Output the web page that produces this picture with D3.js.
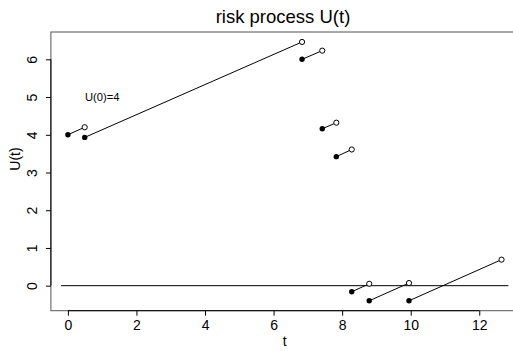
<!DOCTYPE html>
<html lang="en">
<head>
  <meta charset="UTF-8">
  <title>risk process U(t)</title>
  <script src="https://d3js.org/d3.v7.min.js"></script>
  <style>
    body {
      margin: 0;
      background: white;
      font-family: "Liberation Sans", Arial, sans-serif;
    }
    svg {
      display: block;
    }
  </style>
</head>
<body>
  <div id="chart"></div>

  <script>
    // segments of the risk process: start (filled dot) -> end (open dot)
    const startTimes  = [0, 0.49, 6.83, 7.42, 7.83, 8.28, 8.79, 9.95];
    const startLevels = [4.0, 3.93, 6.0, 4.16, 3.42, -0.16, -0.40, -0.40];
    const endTimes    = [0.49, 6.83, 7.42, 7.83, 8.28, 8.79, 9.95, 12.65];
    const endLevels   = [4.20, 6.46, 6.23, 4.32, 3.61, 0.05, 0.07, 0.69];

    const xTicks = [0, 2, 4, 6, 8, 10, 12];
    const yTicks = [0, 1, 2, 3, 4, 5, 6];
    const zeroLine = [-0.2, 12.85];

    const W = 513, H = 351;
    const plot = {left: 50.9, right: 520.4, top: 32, bottom: 310.7};

    const svg = d3.select("#chart")
                  .append("svg")
                  .attr("width", W)
                  .attr("height", H);

    const x = d3.scaleLinear()
                .domain([-0.496, 13.2])
                .range([plot.left, plot.right]);

    const y = d3.scaleLinear()
                .domain([-0.663, 6.724])
                .range([plot.bottom, plot.top]);

    const segs = startTimes.map((t, i) => ({
      t0: t, u0: startLevels[i], t1: endTimes[i], u1: endLevels[i]
    }));

    // box
    svg.append("rect")
       .attr("x", plot.left)
       .attr("y", plot.top)
       .attr("width", plot.right - plot.left)
       .attr("height", plot.bottom - plot.top)
       .attr("fill", "none")
       .attr("stroke", "#555")
       .attr("stroke-width", 1);

    // x axis
    const xAxis = svg.append("g")
       .attr("transform", `translate(0,${plot.bottom})`)
       .call(d3.axisBottom(x).tickValues(xTicks).tickSize(5).tickPadding(4).tickSizeOuter(0));
    xAxis.select(".domain")
         .attr("d", `M${x(xTicks[0])},0H${x(xTicks[xTicks.length - 1])}`)
         .attr("stroke", "#000");
    xAxis.selectAll("text")
         .attr("font-size", "14px")
         .attr("font-family", "'Liberation Sans', Arial, sans-serif")
         .attr("fill", "#000");

    // y axis (labels rotated like R's default)
    const yAxis = svg.append("g")
       .attr("transform", `translate(${plot.left},0)`)
       .call(d3.axisLeft(y).tickValues(yTicks).tickSize(5).tickSizeOuter(0));
    yAxis.select(".domain")
         .attr("d", `M0,${y(yTicks[0])}V${y(yTicks[yTicks.length - 1])}`)
         .attr("stroke", "#000");
    yAxis.selectAll(".tick text")
         .attr("x", null)
         .attr("dy", null)
         .attr("text-anchor", "middle")
         .attr("transform", "translate(-14,0) rotate(-90)")
         .attr("font-size", "14px")
         .attr("font-family", "'Liberation Sans', Arial, sans-serif")
         .attr("fill", "#000");

    // titles
    svg.append("text")
       .attr("x", 283)
       .attr("y", 23)
       .attr("text-anchor", "middle")
       .attr("font-size", "18.5px")
       .text("risk process U(t)");

    svg.append("text")
       .attr("x", (plot.left + plot.right) / 2 - 1)
       .attr("y", 346)
       .attr("text-anchor", "middle")
       .attr("font-size", "14px")
       .text("t");

    svg.append("text")
       .attr("transform", "translate(20,159) rotate(-90)")
       .attr("text-anchor", "middle")
       .attr("font-size", "14px")
       .text("U(t)");

    // zero line
    svg.append("line")
       .attr("x1", x(zeroLine[0]))
       .attr("x2", x(zeroLine[1]))
       .attr("y1", y(0))
       .attr("y2", y(0))
       .attr("stroke", "#000")
       .attr("stroke-width", 1);

    // path segments
    svg.selectAll(".seg")
       .data(segs)
       .enter()
       .append("line")
       .attr("class", "seg")
       .attr("x1", d => x(d.t0))
       .attr("y1", d => y(d.u0))
       .attr("x2", d => x(d.t1))
       .attr("y2", d => y(d.u1))
       .attr("stroke", "#000")
       .attr("stroke-width", 1);

    svg.selectAll(".start")
       .data(segs)
       .enter()
       .append("circle")
       .attr("class", "start")
       .attr("cx", d => x(d.t0))
       .attr("cy", d => y(d.u0))
       .attr("r", 2.7)
       .attr("fill", "#000");

    svg.selectAll(".end")
       .data(segs)
       .enter()
       .append("circle")
       .attr("class", "end")
       .attr("cx", d => x(d.t1))
       .attr("cy", d => y(d.u1))
       .attr("r", 2.6)
       .attr("fill", "white")
       .attr("stroke", "#000")
       .attr("stroke-width", 1);

    // annotation
    svg.append("text")
       .attr("x", x(1))
       .attr("y", y(5))
       .attr("dy", "0.35em")
       .attr("text-anchor", "middle")
       .attr("font-size", "11.2px")
       .text("U(0)=4");
  </script>
</body>
</html>
